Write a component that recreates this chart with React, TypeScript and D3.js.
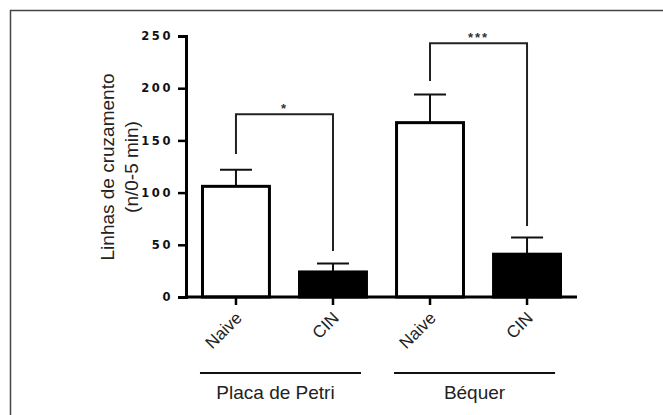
import React, { useEffect, useRef } from 'react';
import * as d3 from 'd3';

// values
const categories = ['Naive', 'CIN', 'Naive', 'CIN'];
const means = [106, 24, 167, 41];
const sem = [16, 8, 27, 16];
const groups = ['Placa de Petri', 'Béquer'];
const yTicks = [0, 50, 100, 150, 200, 250];
// bracket: [from bar, to bar, top value, left leg end, right leg end, label]
const brackets: [number, number, number, number, number, string][] = [
  [0, 1, 175, 137, 44, '*'],
  [2, 3, 243, 207, 68, '***'],
];

const W = 663;
const H = 415;
const margin = { top: 36, bottom: 118, left: 186, right: 86 };

function BarChart() {
  const svgRef = useRef<SVGSVGElement>(null);

  useEffect(() => {
    const svg = d3.select(svgRef.current);
    svg.selectAll('*').remove();

    const font = '"Liberation Sans", Arial, Helvetica, sans-serif';
    const x = d3.scaleBand<number>()
      .domain(categories.map((_, i) => i))
      .range([margin.left, W - margin.right])
      .paddingInner(0.31)
      .paddingOuter(0.17);
    const y = d3.scaleLinear().domain([0, 250]).range([H - margin.bottom, margin.top]);
    const cx = (i: number) => (x(i) as number) + x.bandwidth() / 2;

    // frame (top + left only, like the cropped figure)
    svg.append('path')
      .attr('d', `M10.5,${H} V10.5 H${W}`)
      .attr('fill', 'none')
      .attr('stroke', '#444')
      .attr('stroke-width', 1.5);

    // error bars (drawn before the bars so the bar outline covers the stem)
    const err = svg.append('g').attr('stroke', '#111').attr('stroke-width', 2);
    means.forEach((m, i) => {
      err.append('line').attr('x1', cx(i)).attr('x2', cx(i)).attr('y1', y(m)).attr('y2', y(m + sem[i]));
      err.append('line').attr('x1', cx(i) - 16).attr('x2', cx(i) + 16)
        .attr('y1', y(m + sem[i])).attr('y2', y(m + sem[i]));
    });

    // bars
    svg.append('g').selectAll('rect')
      .data(means)
      .join('rect')
      .attr('x', (_, i) => x(i) as number)
      .attr('y', d => y(d))
      .attr('width', x.bandwidth())
      .attr('height', d => y(0) - y(d))
      .attr('fill', (_, i) => (i % 2 === 0 ? '#fff' : '#000'))
      .attr('stroke', '#000')
      .attr('stroke-width', 3);

    // y axis
    const yAxis = svg.append('g')
      .attr('transform', `translate(${margin.left},0)`)
      .call(d3.axisLeft(y).tickValues(yTicks).tickSize(8).tickPadding(5));
    yAxis.select('.domain').attr('stroke', '#000').attr('stroke-width', 3);
    yAxis.selectAll('.tick line').attr('stroke', '#000').attr('stroke-width', 2.5);
    yAxis.selectAll('.tick text')
      .attr('fill', '#111')
      .style('font-family', '"DejaVu Sans", Verdana, sans-serif')
      .style('font-size', '11.5px')
      .style('font-weight', 'bold')
      .style('letter-spacing', '2.6px');

    // x baseline and ticks
    svg.append('line')
      .attr('x1', margin.left).attr('x2', W - margin.right)
      .attr('y1', y(0)).attr('y2', y(0))
      .attr('stroke', '#000').attr('stroke-width', 3);
    const xt = svg.append('g');
    categories.forEach((c, i) => {
      xt.append('line').attr('x1', cx(i)).attr('x2', cx(i))
        .attr('y1', y(0)).attr('y2', y(0) + 8)
        .attr('stroke', '#000').attr('stroke-width', 2.5);
      xt.append('text')
        .attr('transform', `translate(${cx(i) + 7},${y(0) + 22}) rotate(-45)`)
        .attr('text-anchor', 'end')
        .style('font-family', font)
        .style('font-size', '17px')
        .attr('fill', '#222')
        .text(c);
    });

    // significance brackets
    const br = svg.append('g').attr('fill', 'none').attr('stroke', '#222').attr('stroke-width', 2);
    brackets.forEach(([a, b, top, l, r, lab]) => {
      br.append('path')
        .attr('d', `M${cx(a)},${y(l)} V${y(top)} H${cx(b)} V${y(r)}`);
      svg.append('text')
        .attr('x', (cx(a) + cx(b)) / 2)
        .attr('y', y(top) - 1)
        .attr('text-anchor', 'middle')
        .style('font-family', font)
        .style('font-size', '13px')
        .style('font-weight', 'bold')
        .style('letter-spacing', '2px')
        .attr('fill', '#333')
        .text(lab);
    });

    // group lines and labels
    groups.forEach((g, k) => {
      const a = cx(k * 2) - 36;
      const b = cx(k * 2 + 1) + 28;
      svg.append('line')
        .attr('x1', a).attr('x2', b).attr('y1', 373).attr('y2', 373)
        .attr('stroke', '#111').attr('stroke-width', 2);
      svg.append('text')
        .attr('x', (a + b) / 2 - (k === 0 ? 5 : 0))
        .attr('y', 399)
        .attr('text-anchor', 'middle')
        .style('font-family', font)
        .style('font-size', '19px')
        .attr('fill', '#222')
        .text(g);
    });

    // y axis title
    const title = svg.append('text')
      .attr('transform', `translate(114,167) rotate(-90)`)
      .attr('text-anchor', 'middle')
      .style('font-family', font)
      .style('font-size', '19px')
      .attr('fill', '#222');
    title.append('tspan').attr('x', 0).attr('dy', 0).text('Linhas de cruzamento');
    title.append('tspan').attr('x', 0).attr('dy', 24).text('(n/0-5 min)');
  }, []);

  return <svg ref={svgRef} width={W} height={H} style={{ display: 'block', background: '#fff' }} />;
}

export default function App() {
  return (
    <div style={{ position: 'fixed', left: 0, top: 0, width: W, height: H, background: '#fff' }}>
      <BarChart />
    </div>
  );
}
